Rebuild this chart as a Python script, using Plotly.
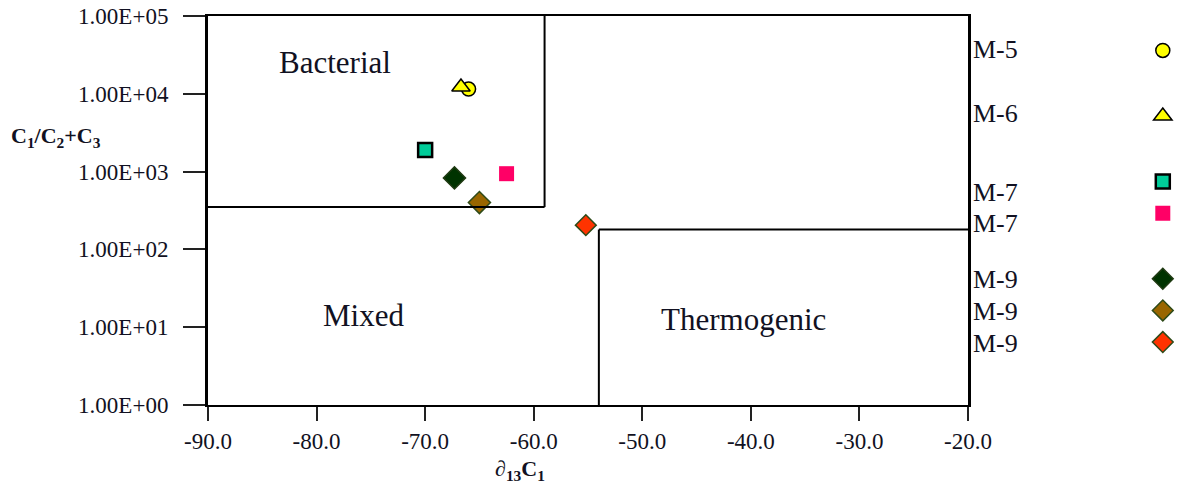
import math
import plotly.graph_objects as go

# ---- data ----
sample_names = ["M-5", "M-6", "M-7", "M-7", "M-9", "M-9", "M-9"]
delta13c1 = [-66.0, -66.7, -70.0, -62.5, -67.3, -65.0, -55.2]
c1_ratio = [11500, 12200, 1900, 940, 830, 400, 205]
groups = ["g5", "g6", "g7", "g7", "g9", "g9", "g9"]

symbols = ["circle", "triangle-up", "square", "square", "diamond", "diamond", "diamond"]
fills = ["#FFFF00", "#FFFF00", "#00CC99", "#FF0066", "#003300", "#996600", "#FF3300"]
edges = ["#000000", "#000000", "#000000", "#FF0066", "#1F3A12", "#2E4A18", "#2E4A18"]
edge_w = [1.5, 1.5, 2.5, 0, 1.5, 1.5, 1.5]
sizes = [14, 16, 14, 15, 17, 17, 16]

x_ticks = [-90, -80, -70, -60, -50, -40, -30, -20]
x_ticktext = ["-90.0", "-80.0", "-70.0", "-60.0", "-50.0", "-40.0", "-30.0", "-20.0"]
y_ticks = [1, 10, 100, 1000, 10000, 100000]
y_ticktext = ["1.00E+00", "1.00E+01", "1.00E+02", "1.00E+03", "1.00E+04", "1.00E+05"]

# zone boundaries (Bernard diagram)
bact_x_max = -59.0
bact_y_min = 350
thermo_x_min = -54.0
thermo_y_max = 180

region_labels = ["Bacterial", "Mixed", "Thermogenic"]
region_x = [-78.3, -75.7, -40.7]
region_y = [25000, 14, 12.5]

SERIF = "Liberation Serif, Times New Roman, serif"

fig = go.Figure()
for i in range(len(sample_names)):
    fig.add_trace(go.Scatter(
        x=[delta13c1[i]], y=[c1_ratio[i]], mode="markers",
        name=" ", legendgroup=groups[i],
        hovertemplate=sample_names[i] + ": %{x}, %{y}<extra></extra>",
        marker=dict(symbol=symbols[i], color=fills[i], size=sizes[i],
                    line=dict(color=edges[i], width=edge_w[i])),
    ))

line_style = dict(color="black", width=2)
# bacterial box
fig.add_shape(type="line", x0=bact_x_max, x1=bact_x_max, y0=bact_y_min, y1=100000,
              xref="x", yref="y", line=line_style)
fig.add_shape(type="line", x0=-90, x1=bact_x_max, y0=bact_y_min, y1=bact_y_min,
              xref="x", yref="y", line=line_style)
# thermogenic box
fig.add_shape(type="line", x0=thermo_x_min, x1=thermo_x_min, y0=1, y1=thermo_y_max,
              xref="x", yref="y", line=line_style)
fig.add_shape(type="line", x0=thermo_x_min, x1=-20, y0=thermo_y_max, y1=thermo_y_max,
              xref="x", yref="y", line=line_style)

for t, xx, yy in zip(region_labels, region_x, region_y):
    fig.add_annotation(x=xx, y=math.log10(yy), xref="x", yref="y", text=t, showarrow=False,
                       xanchor="center", yanchor="middle",
                       font=dict(family=SERIF, size=31, color="#111122"))

# legend labels (left of the legend symbols)
label_y_px = [50, 113, 192, 224, 279, 311, 343]
for name, ypx in zip(sample_names, label_y_px):
    fig.add_annotation(x=1.004, y=(405 - ypx) / 389, xref="paper", yref="paper",
                       text=name, showarrow=False, xanchor="left", yanchor="middle",
                       font=dict(family=SERIF, size=26, color="#111122"))

# axis titles
fig.add_annotation(x=-0.262, y=0.69, xref="paper", yref="paper",
                   text="<b>C<sub>1</sub>/C<sub>2</sub>+C<sub>3</sub></b>",
                   showarrow=False, xanchor="left", yanchor="middle",
                   font=dict(family=SERIF, size=22, color="#111122"))
fig.add_annotation(x=0.41, y=-0.168, xref="paper", yref="paper",
                   text="<b>\u2202<sub>13</sub>C<sub>1</sub></b>",
                   showarrow=False, xanchor="center", yanchor="middle",
                   font=dict(family=SERIF, size=22, color="#111122"))

fig.update_xaxes(range=[-90, -20], tickvals=x_ticks, ticktext=x_ticktext,
                 showgrid=False, zeroline=False, showline=True, linecolor="black",
                 linewidth=2, mirror=True, ticks="outside", ticklen=14, tickwidth=1.5,
                 tickcolor="#222",
                 tickfont=dict(family=SERIF, size=23, color="#111122"))
fig.update_yaxes(type="log", range=[0, 5], tickvals=y_ticks, ticktext=y_ticktext,
                 showgrid=False, zeroline=False, showline=True, linecolor="black",
                 linewidth=3, mirror=True, ticks="outside", ticklen=22, tickwidth=2,
                 tickcolor="#222", ticklabelstandoff=10,
                 tickfont=dict(family=SERIF, size=23, color="#111122"))

fig.update_layout(
    width=1179, height=485,
    margin=dict(l=208, r=211, t=16, b=80, autoexpand=False),
    paper_bgcolor="white", plot_bgcolor="white",
    showlegend=True,
    legend=dict(x=1.23, y=0.965, xanchor="left", yanchor="top",
                tracegroupgap=34, bgcolor="rgba(0,0,0,0)",
                font=dict(family=SERIF, size=22, color="#111122")),
)

fig.write_html("out.html", config={"displayModeBar": False},
               post_script="document.body.style.margin='0';")
